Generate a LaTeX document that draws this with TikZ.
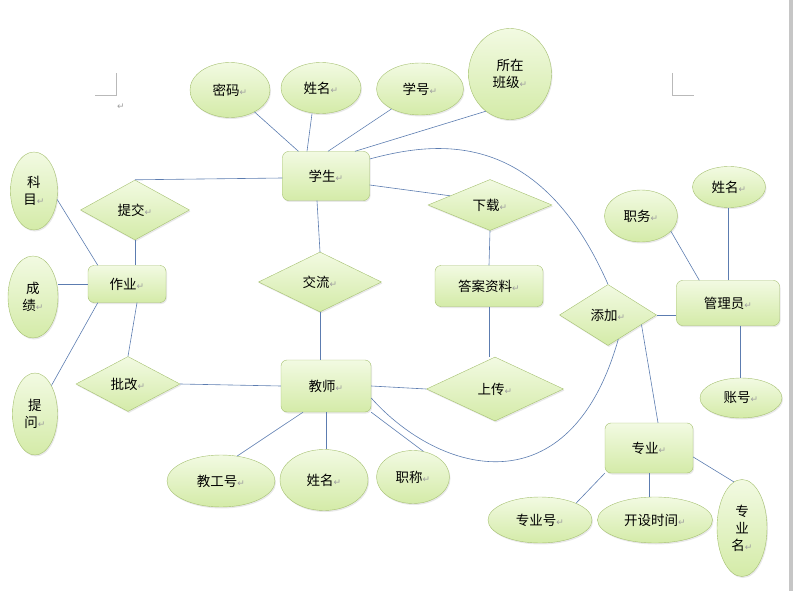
\documentclass[tikz,border=0pt]{standalone}
\usepackage{fontspec}
\setmainfont{Noto Sans CJK SC}
\newfontfamily\symfont{DejaVu Sans}
\usetikzlibrary{shapes.geometric,shadows}

\definecolor{ertop}{RGB}{242,250,226}
\definecolor{erfill}{RGB}{212,235,168}
\definecolor{erline}{RGB}{165,192,112}
\definecolor{linkblue}{RGB}{92,124,176}
\newcommand{\pmark}{{\symfont\fontsize{9}{9}\selectfont\color{gray!75}↵}}

\begin{document}
\begin{tikzpicture}[x=1pt,y=-1pt,
    font=\fontsize{13.5}{17}\selectfont,
    base/.style={draw=erline, top color=ertop, bottom color=erfill, inner sep=0pt, align=center,
      drop shadow={opacity=0.18, shadow xshift=1pt, shadow yshift=-1.5pt}},
    ent/.style={base, rectangle, rounded corners=6pt},
    rel/.style={base, diamond},
    attr/.style={base, ellipse},
    sz/.style 2 args={minimum width=#1, minimum height=#2},
    link/.style={draw=linkblue, line width=0.6pt}
  ]
    \useasboundingbox (0,0) rectangle (793,591);

    % page marks
    \draw[gray!55] (95,95) -- (116,95) -- (116,73);
    \draw[gray!55] (672,73) -- (672,95) -- (694,95);
    \node (pm) at (121,107) {\pmark};
    \fill[gray!45] (789,0) rectangle (793,591);

    % entities
    \node[ent, sz={87}{49}] (stu) at (326,176) {学生\pmark};
    \node[ent, sz={78}{37}] (hw) at (127,284) {作业\pmark};
    \node[ent, sz={90}{52}] (tea) at (326,386) {教师\pmark};
    \node[ent, sz={108}{41}] (ans) at (489,286) {答案资料\pmark};
    \node[ent, sz={103}{45}] (admin) at (728,303) {管理员\pmark};
    \node[ent, sz={88}{50}] (major) at (649,448) {专业\pmark};

    % relations
    \node[rel, sz={109}{60}] (submit) at (135,210) {提交\pmark};
    \node[rel, sz={123}{60}] (talk) at (320,282) {交流\pmark};
    \node[rel, sz={124}{51}] (download) at (490,205) {下载\pmark};
    \node[rel, sz={104}{55}] (correct) at (128,384) {批改\pmark};
    \node[rel, sz={137}{64}] (upload) at (495,389) {上传\pmark};
    \node[rel, sz={97}{61}] (add) at (608,315) {添加\pmark};

    % attributes
    \node[attr, sz={80}{55}] (stupwd) at (230,90) {密码\pmark};
    \node[attr, sz={80}{51}] (stuname) at (321,88) {姓名\pmark};
    \node[attr, sz={87}{52}] (stuno) at (420,89) {学号\pmark};
    \node[attr, sz={83}{91}] (stuclass) at (510,74) {所在\\班级\pmark};
    \node[attr, sz={47}{78}] (subj) at (34,191) {科\\目\pmark};
    \node[attr, sz={50}{82}] (score) at (33,297) {成\\绩\pmark};
    \node[attr, sz={45}{82}] (ask) at (35,414) {提\\问\pmark};
    \node[attr, sz={108}{52}] (teano) at (221,481) {教工号\pmark};
    \node[attr, sz={88}{61}] (teaname) at (324,480) {姓名\pmark};
    \node[attr, sz={73}{53}] (title) at (413,477) {职称\pmark};
    \node[attr, sz={73}{52}] (duty) at (641,216) {职务\pmark};
    \node[attr, sz={73}{41}] (adminname) at (729,187) {姓名\pmark};
    \node[attr, sz={82}{40}] (acct) at (741,398) {账号\pmark};
    \node[attr, sz={104}{46}] (majorno) at (540,520) {专业号\pmark};
    \node[attr, sz={115}{46}] (majortime) at (655,520) {开设时间\pmark};
    \node[attr, sz={50}{97}] (majorname) at (742,528) {专\\业\\名\pmark};

    % student
    \draw[link] (stu) -- (stupwd);
    \draw[link] ([xshift=-19pt]stu.north) -- ([xshift=-9pt]stuname.south);
    \draw[link] ([xshift=2pt]stu.north) -- (stuno.215);
    \draw[link] ([xshift=29pt]stu.north) -- (stuclass.237);
    \draw[link] ([yshift=-2pt]stu.west) -- (submit.north);
    \draw[link] ([xshift=-9pt]stu.south) -- (talk.north);
    \draw[link] ([yshift=-9pt]stu.east) -- (download.167);
    \draw[link] ([yshift=17pt]stu.east) .. controls (440,140) and (540,130) .. (add.north);

    % homework
    \draw[link] (submit.south) -- (submit.south |- hw.north);
    \draw[link] ([xshift=10pt]hw.north west) -- (subj.-20);
    \draw[link] (hw.west) -- (hw.west -| score.east);
    \draw[link] ([xshift=10pt]hw.south west) -- (ask.60);
    \draw[link] ([xshift=10pt]hw.south) -- (correct.north);
    \draw[link] (correct.east) -- (tea.west);

    % teacher
    \draw[link] (talk.south) -- (talk.south |- tea.north);
    \draw[link] (tea.east) -- (upload.west);
    \draw[link] ([xshift=-23pt]tea.south) -- (teano.57);
    \draw[link] (tea.south) -- (tea.south |- teaname.north);
    \draw[link] (tea.south east) -- (title.68);
    \draw[link] ([yshift=-12pt]tea.east) .. controls (440,475) and (570,510) .. (add.-67);

    % answer files
    \draw[link] (download.south) -- (ans.north);
    \draw[link] (ans.south) -- (ans.south |- upload.north);

    % admin and major
    \draw[link] (add.east) -- (admin.west |- add.east);
    \draw[link] (add.-16) -- ([xshift=9pt]major.north);
    \draw[link] ([xshift=23pt]admin.north west) -- (duty.-27);
    \draw[link] (admin.north) -- (admin.north |- adminname.south);
    \draw[link] ([xshift=12pt]admin.south) -- ([xshift=12pt]admin.south |- acct.north);
    \draw[link] (major.south west) -- (majorno.25);
    \draw[link] (major.south) -- (major.south |- majortime.north);
    \draw[link] ([yshift=-9pt]major.east) -- (majorname.100);
  \end{tikzpicture}
\end{document}
